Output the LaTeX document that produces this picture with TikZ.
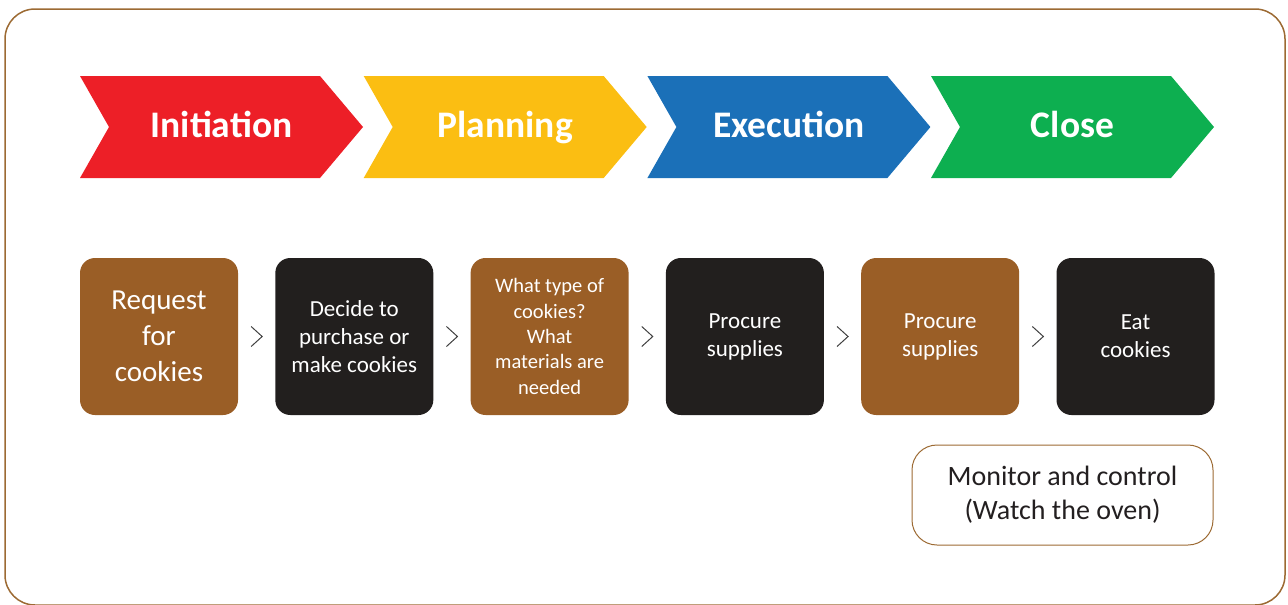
\documentclass[tikz,border=0pt]{standalone}
\usepackage{fontspec}
\setmainfont{Carlito}
\usetikzlibrary{positioning,calc}

\definecolor{frameline}{HTML}{9C6A33}
\definecolor{initred}{HTML}{ED1F27}
\definecolor{planyellow}{HTML}{FBBE12}
\definecolor{execblue}{HTML}{1B70B8}
\definecolor{closegreen}{HTML}{0DAF50}
\definecolor{taskbrown}{HTML}{9A5E26}
\definecolor{taskblack}{HTML}{221F1E}
\definecolor{textdark}{HTML}{231F20}

\begin{document}
\begin{tikzpicture}[
    x = 1pt, y = -1pt,
    node distance = 36.9pt,
    phase/.style={anchor=base, text=white, font=\fontsize{37.5}{42}\selectfont\bfseries},
    task/.style={rounded corners=15pt, minimum width=158pt, minimum height=157pt,
        align=center, text=white, inner sep=4pt, font=\fontsize{23}{28}\selectfont},
    brownbox/.style={task, fill=taskbrown},
    blackbox/.style={task, fill=taskblack},
    gt/.style={draw=black!75, line width=1pt},
    monitor/.style={draw=frameline, line width=1pt, rounded corners=25pt,
        minimum width=301pt, minimum height=100pt, align=center, text=textdark,
        font=\fontsize{28}{34}\selectfont}
]
    \useasboundingbox (0,0) rectangle (1288,605);
    \draw[frameline, line width=1.5pt, rounded corners=30pt] (5,9) rectangle (1285,605);

    % phase chevrons
    \fill[initred]    (80,76)    -- ++(240,0) -- ++(43,51) -- ++(-43,51) -- ++(-240,0) -- ++(29,-51) -- cycle;
    \fill[planyellow] (363.7,76) -- ++(240,0) -- ++(43,51) -- ++(-43,51) -- ++(-240,0) -- ++(29,-51) -- cycle;
    \fill[execblue]   (647.4,76) -- ++(240,0) -- ++(43,51) -- ++(-43,51) -- ++(-240,0) -- ++(29,-51) -- cycle;
    \fill[closegreen] (931,76)   -- ++(240,0) -- ++(43,51) -- ++(-43,51) -- ++(-240,0) -- ++(29,-51) -- cycle;

    \node[phase] (init) at (221.5,137) {Initiation};
    \node[phase] (plan) at (505.2,137) {Planning};
    \node[phase] (exec) at (788.9,137) {Execution};
    \node[phase] (close) at (1072.5,137) {Close};

    % tasks
    \node[brownbox, font=\fontsize{29}{36}\selectfont] (request) at (159,336.5) {Request\\for\\cookies};
    \node[blackbox, right=of request] (decide) {Decide to\\purchase or\\make cookies};
    \node[brownbox, right=of decide, font=\fontsize{20.5}{25.3}\selectfont] (type) {What type of\\cookies?\\What\\materials are\\needed};
    \node[blackbox, right=of type] (procure) {Procure\\supplies};
    \node[brownbox, right=of procure] (supplies) {Procure\\supplies};
    \node[blackbox, right=of supplies] (eat) {Eat\\cookies};

    \foreach \a/\b in {request/decide, decide/type, type/procure, procure/supplies, supplies/eat}
        \draw[gt] ($(\a.east)!0.5!(\b.west)$) +(-5.5,-10) -- +(5.5,0) -- +(-5.5,10);

    \node[monitor] (watch) at (1062.5,495) {Monitor and control\\(Watch the oven)};
\end{tikzpicture}
\end{document}
